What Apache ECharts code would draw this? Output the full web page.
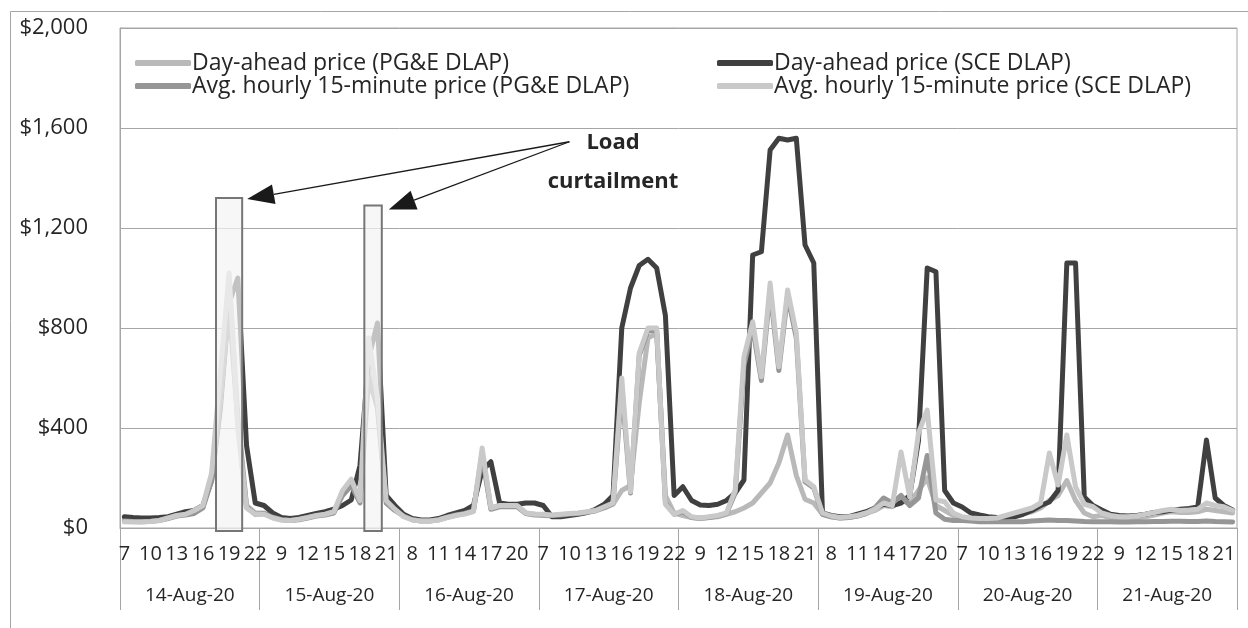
<!DOCTYPE html>
<html>
<head>
<meta charset="utf-8">
<script src="https://cdn.jsdelivr.net/npm/echarts@6/dist/echarts.min.js"></script>
<style>
html,body{margin:0;padding:0;background:#fff;}
#chart{width:1248px;height:628px;}
</style>
</head>
<body>
<div id="chart"></div>
<script>
// ---- data ----
const days = ['14-Aug-20','15-Aug-20','16-Aug-20','17-Aug-20','18-Aug-20','19-Aug-20','20-Aug-20','21-Aug-20'];
const hourLabels = [7,8,9,10,11,12,13,14,15,16,17,18,19,20,21,22];
const seriesNames = [
  'Day-ahead price (PG&E DLAP)',
  'Day-ahead price (SCE DLAP)',
  'Avg. hourly 15-minute price (PG&E DLAP)',
  'Avg. hourly 15-minute price (SCE DLAP)'
];
const yTicks = [0,400,800,1200,1600,2000];

// Day-ahead price (PG&E DLAP), hours 7..22 for each day
const daPGE = [
  30,28,27,28,32,40,50,55,60,85,200,560,1000,450,90,60,
  60,45,35,32,35,42,50,55,62,140,180,110,650,500,110,75,
  50,35,30,30,35,45,55,60,70,300,80,90,90,90,60,55,
  50,48,50,55,58,62,68,80,95,150,170,500,760,780,130,60,
  50,42,40,42,45,55,65,80,100,140,180,260,372,210,115,100,
  55,45,40,42,48,58,70,90,85,110,100,150,200,90,70,50,
  40,35,32,32,35,42,50,58,65,80,110,130,190,110,60,45,
  50,42,38,38,40,45,52,60,65,62,62,65,75,70,65,60
];
// Day-ahead price (SCE DLAP)
const daSCE = [
  45,42,40,40,42,45,55,65,70,90,190,480,900,1000,330,100,
  90,60,42,38,42,50,58,65,75,90,112,250,680,820,130,90,
  55,38,32,32,38,50,60,70,90,230,265,100,95,95,100,100,
  90,45,45,50,55,62,75,95,130,800,960,1050,1075,1040,850,130,
  165,110,92,90,95,110,140,192,1092,1105,1512,1559,1552,1559,1132,1060,
  60,50,45,45,55,65,80,95,90,100,130,350,1040,1025,150,100,
  84,60,52,45,42,42,45,55,70,90,104,150,1060,1060,124,90,
  72,55,50,48,50,55,62,65,72,75,78,84,352,120,90,72
];
// Avg. hourly 15-minute price (PG&E DLAP)
const rtPGE = [
  28,26,25,27,30,38,48,52,58,80,190,500,900,420,85,55,
  58,43,33,30,33,40,48,52,60,130,170,100,600,480,100,70,
  48,33,28,28,33,43,52,58,68,290,75,85,85,85,58,52,
  52,50,52,56,58,63,70,82,98,560,140,690,790,790,100,55,
  65,42,38,42,48,58,140,650,800,590,950,630,930,760,185,160,
  55,45,40,42,48,58,80,120,100,130,90,120,290,60,35,30,
  30,28,25,25,25,25,25,25,28,30,32,30,30,28,26,25,
  25,25,24,24,25,25,26,26,27,27,26,26,28,26,25,24
];
// Avg. hourly 15-minute price (SCE DLAP)
const rtSCE = [
  25,24,24,26,30,40,50,55,70,90,220,620,1020,400,80,55,
  55,40,32,30,35,42,50,55,65,150,195,110,760,520,110,75,
  45,32,28,28,32,42,50,56,66,320,80,90,90,90,60,55,
  55,52,55,58,60,65,70,85,100,600,145,700,800,800,95,55,
  70,45,40,45,50,60,152,685,825,605,980,645,952,780,192,165,
  60,48,42,45,50,60,75,100,90,304,124,380,472,112,105,60,
  45,40,38,38,40,50,60,70,80,100,300,172,372,164,95,85,
  60,50,45,45,48,55,62,70,75,70,72,75,100,90,85,70
];

// ---- build ----
const categories = [];
days.forEach(d => hourLabels.forEach(h => categories.push(d + '|' + h)));
const colors = ['#b9b9b9', '#404040', '#969696', '#c9c9c9'];
const values = [daPGE, daSCE, rtPGE, rtSCE];
const FONT = 'Open Sans';
const TXT = '#262626';
const GRID = '#a6a6a6';

const chart = echarts.init(document.getElementById('chart'), null, {renderer: 'canvas'});

const series = values.map((v, k) => ({
  name: seriesNames[k],
  type: 'line',
  data: v,
  symbol: 'none',
  smooth: false,
  xAxisIndex: 0,
  yAxisIndex: 0,
  lineStyle: {color: colors[k], width: 5, join: 'round', cap: 'round'},
  itemStyle: {color: colors[k]},
  animation: false,
  z: 2 + k
}));

function legendFor(names, left) {
  return {
    show: true,
    orient: 'vertical',
    left: left,
    top: 46,
    itemGap: -1,
    itemWidth: 56,
    itemHeight: 6,
    icon: 'roundRect',
    data: names,
    selectedMode: false,
    textStyle: {fontFamily: FONT, fontSize: 23, lineHeight: 24, color: TXT, padding: [0, 0, 0, -4]}
  };
}

chart.setOption({
  animation: false,
  backgroundColor: '#ffffff',
  textStyle: {fontFamily: FONT},
  grid: {left: 120, right: 11, top: 28, bottom: 100, show: true, borderColor: GRID, borderWidth: 1, containLabel: false},
  legend: [legendFor([seriesNames[0], seriesNames[2]], 130), legendFor([seriesNames[1], seriesNames[3]], 712)],
  xAxis: [
    {
      type: 'category',
      data: categories,
      boundaryGap: true,
      position: 'bottom',
      axisLine: {show: true, lineStyle: {color: GRID, width: 1}},
      axisTick: {show: false},
      axisLabel: {
        interval: 2,
        margin: 16,
        fontFamily: FONT,
        fontSize: 20,
        color: TXT,
        formatter: v => v.split('|')[1]
      },
      splitLine: {show: false}
    },
    {
      type: 'category',
      data: days,
      boundaryGap: true,
      position: 'bottom',
      axisLine: {show: false},
      axisTick: {show: true, length: 82, interval: 0, lineStyle: {color: GRID, width: 1}},
      axisLabel: {interval: 0, margin: 58, fontFamily: FONT, fontSize: 19, color: TXT},
      splitLine: {show: false}
    }
  ],
  yAxis: {
    type: 'value',
    min: yTicks[0],
    max: yTicks[yTicks.length - 1],
    interval: yTicks[1] - yTicks[0],
    axisLine: {show: true, lineStyle: {color: GRID}},
    axisTick: {show: false},
    axisLabel: {
      margin: 32,
      fontFamily: FONT,
      fontSize: 22,
      color: TXT,
      formatter: v => '$' + v.toLocaleString('en-US')
    },
    splitLine: {show: true, lineStyle: {color: GRID, width: 1}}
  },
  series: series
});

// ---- annotations (positions derived from axes) ----
function px(i, v) { return chart.convertToPixel({xAxisIndex: 0, yAxisIndex: 0}, [i, v]); }
const band = px(1, 0)[0] - px(0, 0)[0];
const base = px(0, 0)[1] + 3;

const r1c = px(12, 0)[0];
const r1top = px(12, 1320)[1];
const r2c = (px(28, 0)[0] + px(29, 0)[0]) / 2;
const r2top = px(28, 1290)[1];

const rect1 = {x: r1c - 1.5 * band, y: r1top, width: 3 * band, height: base - r1top};
const rect2 = {x: r2c - 1.0 * band, y: r2top, width: 2 * band, height: base - r2top};

const start = [px(51, 0)[0], px(0, 1545)[1]];
const tip1 = [rect1.x + rect1.width + 5, rect1.y + 1];
const tip2 = [rect2.x + rect2.width + 7, rect2.y + 4];

function arrow(from, to) {
  const dx = to[0] - from[0], dy = to[1] - from[1];
  const len = Math.sqrt(dx * dx + dy * dy);
  const ux = dx / len, uy = dy / len;
  const hl = 27, hw = 10;
  const bx = to[0] - ux * hl, by = to[1] - uy * hl;
  return [
    {type: 'line', shape: {x1: from[0], y1: from[1], x2: bx, y2: by}, style: {stroke: '#1a1a1a', lineWidth: 1.3}, z: 20},
    {type: 'polygon', shape: {points: [to, [bx - uy * hw, by + ux * hw], [bx + uy * hw, by - ux * hw]]}, style: {fill: '#1a1a1a'}, z: 20}
  ];
}

const textX = px(56, 0)[0];
chart.setOption({
  graphic: [
    {type: 'rect', shape: {x: 10.5, y: 11.5, width: 1300, height: 700}, style: {fill: 'none', stroke: GRID, lineWidth: 1}, z: 0, silent: true},
    {type: 'rect', shape: rect1, style: {fill: 'rgba(244,244,244,0.72)', stroke: '#767676', lineWidth: 2}, z: 10},
    {type: 'rect', shape: rect2, style: {fill: 'rgba(244,244,244,0.72)', stroke: '#767676', lineWidth: 2}, z: 10},
    ...arrow(start, tip1),
    ...arrow(start, tip2),
    {type: 'text', x: textX, y: px(0, 1540)[1], style: {text: 'Load', fontFamily: FONT, fontWeight: 'bold', fontSize: 22, fill: TXT, align: 'center', verticalAlign: 'middle'}, z: 20},
    {type: 'text', x: textX, y: px(0, 1385)[1], style: {text: 'curtailment', fontFamily: FONT, fontWeight: 'bold', fontSize: 22, fill: TXT, align: 'center', verticalAlign: 'middle'}, z: 20}
  ]
});
</script>
</body>
</html>
